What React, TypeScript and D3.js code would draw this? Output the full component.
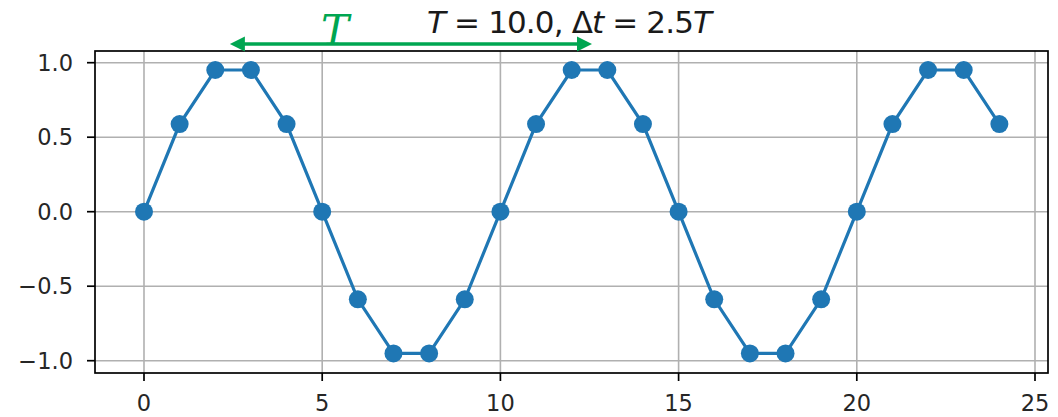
import React from 'react';
import * as d3 from 'd3';

// sampled signal, T = 10, one sample per unit
const sampleT = [0, 1, 2, 3, 4, 5, 6, 7, 8, 9, 10, 11, 12, 13, 14, 15, 16, 17, 18, 19, 20, 21, 22, 23, 24];
const sampleY = [
  0, 0.588, 0.951, 0.951, 0.588, 0, -0.588, -0.951, -0.951, -0.588,
  0, 0.588, 0.951, 0.951, 0.588, 0, -0.588, -0.951, -0.951, -0.588,
  0, 0.588, 0.951, 0.951, 0.588,
];
const xTicks = [0, 5, 10, 15, 20, 25];
const yTicks = [-1.0, -0.5, 0.0, 0.5, 1.0];
// period annotation (data coords)
const arrowSpan = [2.41, 12.57];
const arrowY = 1.126;
const arrowLabelX = 5.36;

const W = 1058;
const H = 417;
const box = { left: 95, top: 51, right: 1048, bottom: 373 };

const App = () => {
  const x = d3.scaleLinear().domain([0, 25]).range([144, 1035]);
  const y = d3.scaleLinear().domain([-1, 1]).range([360.7, 62.7]);

  const line = d3
    .line<number>()
    .x((_, i) => x(sampleT[i]))
    .y((d) => y(d));

  const green = '#00a651';
  const blue = '#1f77b4';
  const fmt = (v: number) => (v < 0 ? '\u2212' : '') + Math.abs(v).toFixed(1);

  const ax0 = x(arrowSpan[0]);
  const ax1 = x(arrowSpan[1]);
  const ay = y(arrowY);
  const headL = 15;
  const headW = 7.5;

  return (
    <svg width={W} height={H} style={{ position: 'absolute', left: 0, top: 0 }}>
      <rect width={W} height={H} fill="#fff" />
      <defs>
        <clipPath id="plotclip">
          <rect x={box.left} y={box.top} width={box.right - box.left} height={box.bottom - box.top} />
        </clipPath>
      </defs>

      {/* grid */}
      <g stroke="#b0b0b0" strokeWidth={1.6}>
        {xTicks.map((t) => (
          <line key={'gx' + t} x1={x(t)} x2={x(t)} y1={box.top} y2={box.bottom} />
        ))}
        {yTicks.map((t) => (
          <line key={'gy' + t} x1={box.left} x2={box.right} y1={y(t)} y2={y(t)} />
        ))}
      </g>

      {/* data */}
      <g clipPath="url(#plotclip)">
        <path d={line(sampleY) || ''} fill="none" stroke={blue} strokeWidth={3.2} />
        {sampleY.map((v, i) => (
          <circle key={i} cx={x(sampleT[i])} cy={y(v)} r={9} fill={blue} />
        ))}
      </g>

      {/* frame */}
      <rect
        x={box.left}
        y={box.top}
        width={box.right - box.left}
        height={box.bottom - box.top}
        fill="none"
        stroke="#000"
        strokeWidth={1.7}
      />

      {/* ticks */}
      <g stroke="#000" strokeWidth={1.7}>
        {xTicks.map((t) => (
          <line key={'tx' + t} x1={x(t)} x2={x(t)} y1={box.bottom} y2={box.bottom + 8} />
        ))}
        {yTicks.map((t) => (
          <line key={'ty' + t} x1={box.left - 8} x2={box.left} y1={y(t)} y2={y(t)} />
        ))}
      </g>
      <g fontFamily="DejaVu Sans" fontSize={22.5} fill="#262626">
        {xTicks.map((t) => (
          <text key={'lx' + t} x={x(t)} y={411} textAnchor="middle">
            {t}
          </text>
        ))}
        {yTicks.map((t) => (
          <text key={'ly' + t} x={73} y={y(t) + 8} textAnchor="end">
            {fmt(t)}
          </text>
        ))}
      </g>

      {/* title */}
      <text
        x={569.5}
        y={33}
        textAnchor="middle"
        fontFamily="DejaVu Sans"
        fontSize={31}
        fill="#1a1a1a"
        textLength={285}
        lengthAdjust="spacing"
      >
        <tspan fontStyle="italic">T</tspan>
        <tspan> = 10.0, Δ</tspan>
        <tspan fontStyle="italic">t</tspan>
        <tspan> = 2.5</tspan>
        <tspan fontStyle="italic">T</tspan>
      </text>

      {/* period arrow */}
      <line x1={ax0 + headL - 2} x2={ax1 - headL + 2} y1={ay} y2={ay} stroke={green} strokeWidth={3.5} />
      <path d={`M${ax0},${ay} L${ax0 + headL},${ay - headW} L${ax0 + headL},${ay + headW} Z`} fill={green} />
      <path d={`M${ax1},${ay} L${ax1 - headL},${ay - headW} L${ax1 - headL},${ay + headW} Z`} fill={green} />
      <text
        x={x(arrowLabelX)}
        y={45}
        textAnchor="middle"
        fontFamily="DejaVu Serif"
        fontStyle="italic"
        fontSize={42}
        fill={green}
      >
        T
      </text>
    </svg>
  );
};

export default App;
